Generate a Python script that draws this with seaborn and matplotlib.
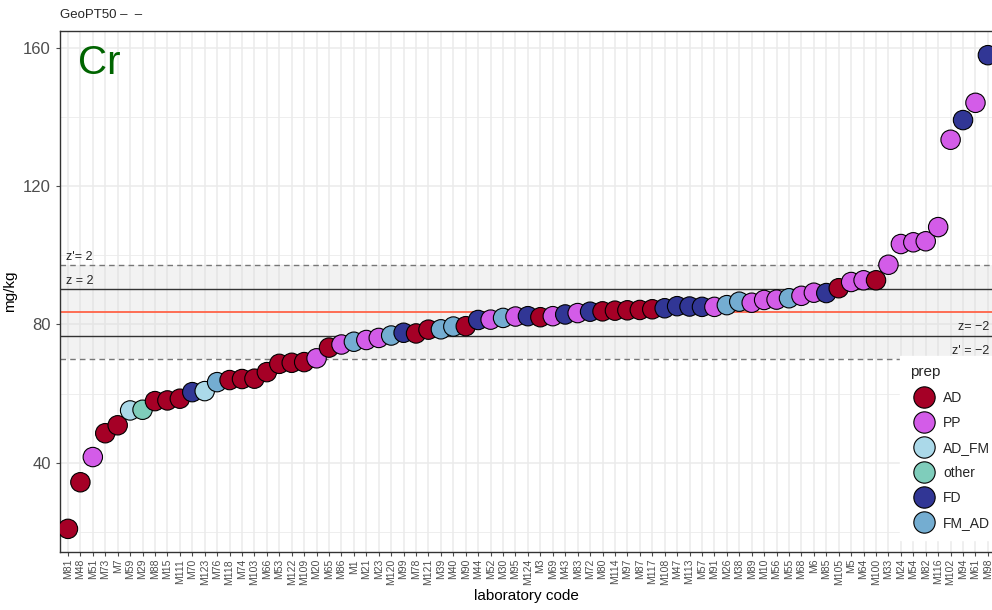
import numpy as np
import pandas as pd
import seaborn as sns
import matplotlib.pyplot as plt
from matplotlib.ticker import MultipleLocator

# lab codes in plotted order (sorted by result)
codes = ["M81", "M48", "M51", "M73", "M7", "M59", "M29", "M88", "M15", "M111",
         "M70", "M123", "M76", "M118", "M74", "M103", "M66", "M53", "M122", "M109",
         "M20", "M65", "M86", "M1", "M21", "M23", "M120", "M99", "M78", "M121",
         "M39", "M40", "M90", "M44", "M52", "M30", "M95", "M124", "M3", "M69",
         "M43", "M83", "M72", "M80", "M114", "M97", "M87", "M117", "M108", "M47",
         "M113", "M57", "M91", "M26", "M38", "M89", "M10", "M56", "M55", "M68",
         "M6", "M85", "M105", "M5", "M64", "M100", "M33", "M24", "M54", "M82",
         "M116", "M102", "M94", "M61", "M98"]

values = [20.8, 34.3, 41.6, 48.5, 50.8, 55.1, 55.3, 57.8, 58.0, 58.5,
          60.4, 60.7, 63.3, 63.9, 64.2, 64.3, 66.2, 68.6, 68.9, 69.1,
          70.2, 73.3, 74.2, 75.0, 75.5, 76.1, 76.8, 77.6, 77.4, 78.5,
          78.6, 79.4, 79.5, 81.3, 81.4, 81.9, 82.3, 82.4, 82.1, 82.4,
          82.9, 83.3, 83.7, 83.8, 84.0, 84.1, 84.2, 84.4, 84.7, 85.3,
          85.2, 85.1, 85.1, 85.6, 86.6, 86.3, 87.1, 87.2, 87.6, 88.3,
          89.2, 89.1, 90.5, 92.3, 92.8, 92.8, 97.3, 103.3, 103.8, 104.1,
          108.2, 133.5, 139.2, 144.2, 158.0]

prep = ["AD", "AD", "PP", "AD", "AD", "AD_FM", "other", "AD", "AD", "AD",
        "FD", "AD_FM", "FM_AD", "AD", "AD", "AD", "AD", "AD", "AD", "AD",
        "PP", "AD", "PP", "FM_AD", "PP", "PP", "FM_AD", "FD", "AD", "AD",
        "FM_AD", "FM_AD", "AD", "FD", "PP", "FM_AD", "PP", "FD", "AD", "PP",
        "FD", "PP", "FD", "AD", "AD", "AD", "AD", "AD", "FD", "FD",
        "FD", "FD", "PP", "FM_AD", "FM_AD", "PP", "PP", "PP", "FM_AD", "PP",
        "PP", "FD", "AD", "PP", "PP", "AD", "PP", "PP", "PP", "PP",
        "PP", "PP", "FD", "PP", "FD"]

prep_order = ["AD", "PP", "AD_FM", "other", "FD", "FM_AD"]
prep_colors = ["#A50026", "#D35CE8", "#ABD9E9", "#7FCDBB", "#313695", "#74ADD1"]

assigned = 83.5
z_lo, z_hi = 76.8, 90.3
zp_lo, zp_hi = 69.9, 97.3

df = pd.DataFrame({"code": codes, "value": values, "prep": prep})

sns.set_theme(style="white")
plt.rcParams["font.family"] = ["Liberation Sans", "DejaVu Sans"]

fig = plt.figure(figsize=(9.92, 6.10), dpi=100)
ax = fig.add_axes([60 / 992, 58 / 610, 932 / 992, 521 / 610])

# grid like ggplot theme_bw
ax.set_axisbelow(True)
ax.yaxis.set_major_locator(MultipleLocator(40))
ax.yaxis.set_minor_locator(MultipleLocator(20))
ax.grid(which="major", color="#EBEBEB", lw=1.1)
ax.grid(which="minor", axis="y", color="#EBEBEB", lw=0.6)

# tolerance band and reference lines
ax.axhspan(zp_lo, zp_hi, color="#DADADA", alpha=0.35, lw=0, zorder=1)
ax.axhline(zp_hi, color="#777777", ls=(0, (4, 3)), lw=1, zorder=2)
ax.axhline(zp_lo, color="#777777", ls=(0, (4, 3)), lw=1, zorder=2)
ax.axhline(z_hi, color="#333333", lw=1, zorder=2)
ax.axhline(z_lo, color="#333333", lw=1, zorder=2)
ax.axhline(assigned, color="#FF6347", lw=1.3, zorder=2)

sns.scatterplot(data=df, x="code", y="value", hue="prep", hue_order=prep_order,
                palette=dict(zip(prep_order, prep_colors)), s=195,
                edgecolor="black", linewidth=0.8, ax=ax, zorder=3, clip_on=True)

ax.set_xlim(-0.64, 74.33)
ax.set_ylim(14.1, 165)

ax.text(0.006, zp_hi + 0.6, "z'= 2", transform=ax.get_yaxis_transform(),
        fontsize=9, va="bottom", ha="left", zorder=4)
ax.text(0.006, z_hi + 0.6, "z = 2", transform=ax.get_yaxis_transform(),
        fontsize=9, va="bottom", ha="left", zorder=4)
ax.text(0.997, z_lo + 0.6, "z= \u22122", transform=ax.get_yaxis_transform(),
        fontsize=9, va="bottom", ha="right", zorder=4)
ax.text(0.997, zp_lo + 0.6, "z' = \u22122", transform=ax.get_yaxis_transform(),
        fontsize=9, va="bottom", ha="right", zorder=4)

ax.text(0.019, 0.975, "Cr", transform=ax.transAxes, fontsize=29,
        color="#006400", va="top", ha="left")
fig.text(60 / 992, 1 - 15 / 610, "GeoPT50 \u2013  \u2013", fontsize=9.5,
         va="center", ha="left")

ax.set_xlabel("laboratory code", fontsize=11, labelpad=3)
ax.set_ylabel("mg/kg", fontsize=11)
ax.tick_params(axis="x", labelrotation=90, labelsize=7.5, colors="#4D4D4D",
               length=3, width=0.8, bottom=True, pad=2)
ax.tick_params(axis="y", labelsize=12, colors="#4D4D4D", length=3, width=0.8,
               left=True)
ax.tick_params(which="minor", left=False)
ax.xaxis.label.set_color("black")
ax.yaxis.label.set_color("black")

for side in ["left", "bottom", "top"]:
    ax.spines[side].set_color("#333333")
    ax.spines[side].set_linewidth(1)
ax.spines["right"].set_visible(False)

leg = ax.legend(title="prep", loc="lower right", bbox_to_anchor=(1.016, 0.01),
                frameon=True, fancybox=False, framealpha=1, edgecolor="white",
                fontsize=10, title_fontsize=11, markerscale=1.1,
                labelspacing=0.8, borderpad=0.7, handletextpad=0.4)
leg._legend_box.align = "left"
leg.set_zorder(5)

fig.savefig("out.png", dpi=100)
